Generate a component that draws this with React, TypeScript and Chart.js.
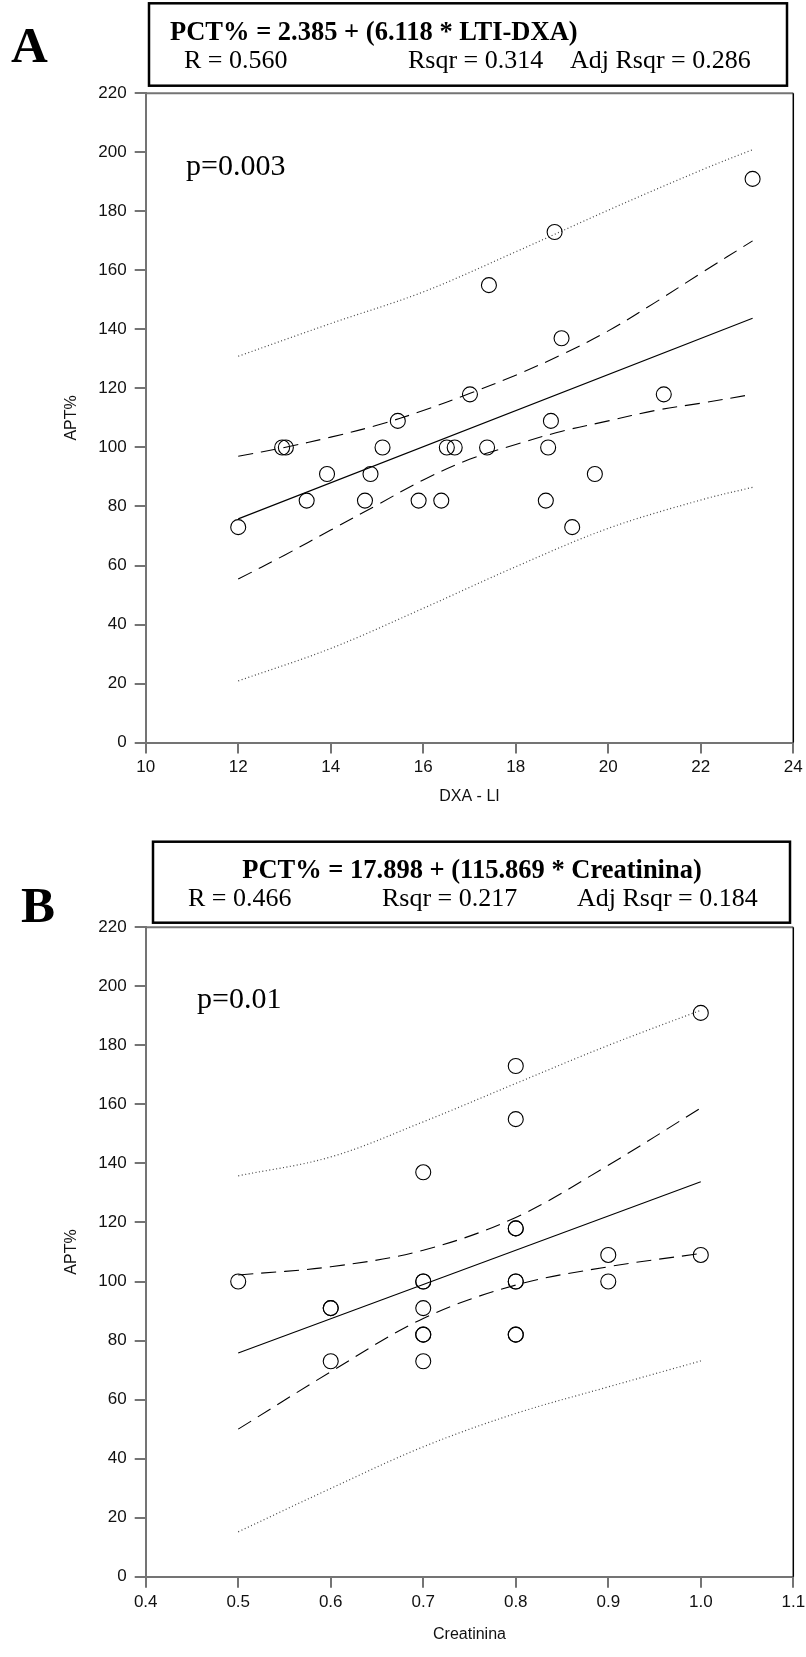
import React, { useEffect, useRef } from "react";
import { Chart, registerables } from "chart.js";

Chart.register(...registerables);

// ---------------- Panel A : APT% vs DXA - LI ----------------
const aPointsX = [12.0, 12.95, 13.03, 13.48, 13.92, 14.74, 14.86, 15.12, 15.45, 15.9, 16.39, 16.51, 16.68, 17.01, 17.38, 17.42, 18.65, 18.7, 18.76, 18.84, 18.99, 19.22, 19.71, 21.2, 23.12];
const aPointsY = [73, 100, 100, 82, 91, 82, 91, 100, 109, 82, 82, 100, 100, 118, 100, 155, 82, 100, 109, 173, 137, 73, 91, 118, 191];
const aFitX = [12.0, 23.12];
const aFitY = [75.8, 143.8];
const aConfX = [12, 13, 14, 15, 16, 17, 18, 19, 20, 21, 22, 23.12];
const aConfUpper = [97, 100, 103.5, 107.5, 112.5, 118.3, 124.5, 131.5, 139.5, 149, 159, 170];
const aConfLower = [55.4, 63.5, 72, 80.5, 89, 96, 101, 105.5, 109, 112.5, 115, 118];
const aPredX = [12, 14, 16, 18, 20, 22, 23.12];
const aPredUpper = [130.9, 142, 152.7, 166.3, 180.4, 193.9, 200.9];
const aPredLower = [20.9, 31.9, 45.5, 59.6, 72.6, 82.2, 86.5];
const aXTicks = [10, 12, 14, 16, 18, 20, 22, 24];
const aYTicks = [0, 20, 40, 60, 80, 100, 120, 140, 160, 180, 200, 220];
const aXTitle = "DXA - LI";
const aYTitle = "APT%";
const aLetter = "A";
const aEquation = "PCT% = 2.385 + (6.118 * LTI-DXA)";
const aStats = ["R = 0.560", "Rsqr = 0.314", "Adj Rsqr = 0.286"];
const aPValue = "p=0.003";

// ---------------- Panel B : APT% vs Creatinina ----------------
const bPointsX = [0.5, 0.6, 0.6, 0.6, 0.7, 0.7, 0.7, 0.7, 0.7, 0.7, 0.7, 0.8, 0.8, 0.8, 0.8, 0.8, 0.8, 0.8, 0.8, 0.9, 0.9, 1.0, 1.0];
const bPointsY = [100, 91, 91, 73, 137, 100, 100, 91, 82, 82, 73, 173, 155, 118, 118, 100, 100, 82, 82, 109, 100, 191, 109];
const bFitX = [0.5, 1.0];
const bFitY = [75.8, 133.8];
const bBandX = [0.5, 0.6, 0.7, 0.8, 0.9, 1.0];
const bConfUpper = [102.2, 105, 110.6, 121.7, 139.4, 158.8];
const bConfLower = [50, 69.4, 87.5, 98.8, 105, 109.5];
const bPredUpper = [135.8, 142.2, 154.1, 167.1, 180, 191.9];
const bPredLower = [15.2, 29.9, 44, 55.3, 64.3, 73.1];
const bXTicks = [0.4, 0.5, 0.6, 0.7, 0.8, 0.9, 1.0, 1.1];
const bYTicks = [0, 20, 40, 60, 80, 100, 120, 140, 160, 180, 200, 220];
const bXTitle = "Creatinina";
const bYTitle = "APT%";
const bLetter = "B";
const bEquation = "PCT% = 17.898 + (115.869 * Creatinina)";
const bStats = ["R = 0.466", "Rsqr = 0.217", "Adj Rsqr = 0.184"];
const bPValue = "p=0.01";

const zip = (xs: number[], ys: number[]) => xs.map((x, i) => ({ x, y: ys[i] }));

const SERIF = '"Liberation Serif", "Times New Roman", serif';
const SANS = '"Liberation Sans", Arial, sans-serif';
const AXIS_GRAY = "#747474";
const PLOT_LEFT = 145.7;
const PLOT_RIGHT = 793.3;
const PAGE_W = 806;

type Layout = {
  canvasTop: number;
  height: number;
  chartTop: number;
  chartBottom: number;
  letterX: number;
  letterY: number;
  box: [number, number, number, number];
  eqX: number;
  eqY: number;
  eqAlign: CanvasTextAlign;
  statsX: number[];
  statsY: number;
  pX: number;
  pY: number;
  titleBottomPad: number;
  xDecimals: number;
};

type Panel = {
  pointsX: number[];
  pointsY: number[];
  fitX: number[];
  fitY: number[];
  confX: number[];
  confUpper: number[];
  confLower: number[];
  predX: number[];
  predUpper: number[];
  predLower: number[];
  xTicks: number[];
  yTicks: number[];
  xTitle: string;
  yTitle: string;
  letter: string;
  equation: string;
  stats: string[];
  pValue: string;
  layout: Layout;
};

const panelA: Panel = {
  pointsX: aPointsX, pointsY: aPointsY, fitX: aFitX, fitY: aFitY,
  confX: aConfX, confUpper: aConfUpper, confLower: aConfLower,
  predX: aPredX, predUpper: aPredUpper, predLower: aPredLower,
  xTicks: aXTicks, yTicks: aYTicks, xTitle: aXTitle, yTitle: aYTitle,
  letter: aLetter, equation: aEquation, stats: aStats, pValue: aPValue,
  layout: {
    canvasTop: 0, height: 830, chartTop: 93.3, chartBottom: 742.6,
    letterX: 11, letterY: 62,
    box: [149, 3.3, 787, 85.7],
    eqX: 170, eqY: 39.5, eqAlign: "left",
    statsX: [184, 408, 570], statsY: 67.7,
    pX: 186, pY: 175,
    titleBottomPad: 23.5, xDecimals: 0,
  },
};

const panelB: Panel = {
  pointsX: bPointsX, pointsY: bPointsY, fitX: bFitX, fitY: bFitY,
  confX: bBandX, confUpper: bConfUpper, confLower: bConfLower,
  predX: bBandX, predUpper: bPredUpper, predLower: bPredLower,
  xTicks: bXTicks, yTicks: bYTicks, xTitle: bXTitle, yTitle: bYTitle,
  letter: bLetter, equation: bEquation, stats: bStats, pValue: bPValue,
  layout: {
    canvasTop: 830, height: 827, chartTop: 97.3, chartBottom: 746.7,
    letterX: 21, letterY: 92,
    box: [153, 11.7, 790, 92.7],
    eqX: 472, eqY: 47.5, eqAlign: "center",
    statsX: [188, 382, 577], statsY: 75.5,
    pX: 197, pY: 178.3,
    titleBottomPad: 12.7, xDecimals: 1,
  },
};

function makeOverlay(p: Panel) {
  const L = p.layout;
  return {
    id: "panelOverlay" + p.letter,
    afterDraw(chart: any) {
      const ctx: CanvasRenderingContext2D = chart.ctx;
      const ca = chart.chartArea;
      ctx.save();
      // top frame (gray) and right frame (black)
      ctx.strokeStyle = AXIS_GRAY;
      ctx.lineWidth = 2;
      ctx.beginPath();
      ctx.moveTo(ca.left, ca.top);
      ctx.lineTo(ca.right, ca.top);
      ctx.stroke();
      ctx.strokeStyle = "#000";
      ctx.lineWidth = 1.5;
      ctx.beginPath();
      ctx.moveTo(ca.right, ca.top);
      ctx.lineTo(ca.right, ca.bottom);
      ctx.stroke();
      // equation box
      const [bl, bt, br, bb] = L.box;
      ctx.lineWidth = 2.5;
      ctx.strokeRect(bl, bt, br - bl, bb - bt);
      ctx.fillStyle = "#000";
      ctx.textBaseline = "alphabetic";
      // panel letter
      ctx.textAlign = "left";
      ctx.font = "bold 51px " + SERIF;
      ctx.fillText(p.letter, L.letterX, L.letterY);
      // equation
      ctx.font = "bold 26.5px " + SERIF;
      ctx.textAlign = L.eqAlign;
      ctx.fillText(p.equation, L.eqX, L.eqY);
      // stats
      ctx.font = "26px " + SERIF;
      ctx.textAlign = "left";
      p.stats.forEach((s, i) => ctx.fillText(s, L.statsX[i], L.statsY));
      // p value
      ctx.font = "30px " + SERIF;
      ctx.fillText(p.pValue, L.pX, L.pY);
      ctx.restore();
    },
  };
}

function buildChart(canvas: HTMLCanvasElement, p: Panel) {
  const L = p.layout;
  const lineBase = { showLine: true, pointRadius: 0, pointHoverRadius: 0, fill: false, borderColor: "#000" };
  return new Chart(canvas, {
    type: "scatter",
    data: {
      datasets: [
        {
          label: "data",
          data: zip(p.pointsX, p.pointsY),
          pointStyle: "circle",
          pointRadius: 7.5,
          pointBorderWidth: 1.1,
          pointBorderColor: "#000",
          pointBackgroundColor: "rgba(0,0,0,0)",
          showLine: false,
        } as any,
        { ...lineBase, label: "fit", data: zip(p.fitX, p.fitY), borderWidth: 1.1 } as any,
        { ...lineBase, label: "conf+", data: zip(p.confX, p.confUpper), borderWidth: 1.1, borderDash: [15, 8], tension: 0.35 } as any,
        { ...lineBase, label: "conf-", data: zip(p.confX, p.confLower), borderWidth: 1.1, borderDash: [15, 8], tension: 0.35 } as any,
        { ...lineBase, label: "pred+", data: zip(p.predX, p.predUpper), borderWidth: 1.2, borderColor: "#444", borderDash: [1, 2.5], tension: 0.35 } as any,
        { ...lineBase, label: "pred-", data: zip(p.predX, p.predLower), borderWidth: 1.2, borderColor: "#444", borderDash: [1, 2.5], tension: 0.35 } as any,
      ],
    },
    options: {
      responsive: false,
      maintainAspectRatio: false,
      animation: false,
      devicePixelRatio: 1,
      events: [],
      layout: { padding: { top: L.chartTop, left: 0, right: PAGE_W - PLOT_RIGHT, bottom: 0 } },
      plugins: { legend: { display: false }, tooltip: { enabled: false }, title: { display: false } },
      scales: {
        x: {
          type: "linear",
          position: "bottom",
          min: p.xTicks[0],
          max: p.xTicks[p.xTicks.length - 1],
          afterBuildTicks: (s: any) => {
            s.ticks = p.xTicks.map((v) => ({ value: v }));
          },
          afterFit: (s: any) => {
            s.height = L.height - L.chartBottom;
            s.paddingLeft = 0;
            s.paddingRight = 0;
          },
          ticks: {
            autoSkip: false,
            maxRotation: 0,
            padding: 4,
            color: "#111",
            font: { family: SANS, size: 17 },
            callback: (v: any) => Number(v).toFixed(L.xDecimals),
          },
          grid: { drawOnChartArea: false, drawTicks: true, tickLength: 11, tickWidth: 2, tickColor: AXIS_GRAY, lineWidth: 2, color: AXIS_GRAY },
          border: { display: true, color: AXIS_GRAY, width: 2 },
          title: { display: true, text: p.xTitle, color: "#111", font: { family: SANS, size: 16 }, padding: { top: 0, bottom: L.titleBottomPad } },
        },
        y: {
          type: "linear",
          min: p.yTicks[0],
          max: p.yTicks[p.yTicks.length - 1],
          afterBuildTicks: (s: any) => {
            s.ticks = p.yTicks.map((v) => ({ value: v }));
          },
          afterFit: (s: any) => {
            s.width = PLOT_LEFT;
          },
          ticks: { autoSkip: false, padding: 8, color: "#111", font: { family: SANS, size: 17 } },
          grid: { drawOnChartArea: false, drawTicks: true, tickLength: 11, tickWidth: 2, tickColor: AXIS_GRAY, lineWidth: 2, color: AXIS_GRAY },
          border: { display: true, color: AXIS_GRAY, width: 2 },
          title: { display: true, text: p.yTitle, color: "#111", font: { family: SANS, size: 16 }, padding: { top: 62, bottom: 0 } },
        },
      },
    } as any,
    plugins: [makeOverlay(p)],
  });
}

function PanelCanvas({ panel }: { panel: Panel }) {
  const ref = useRef<HTMLCanvasElement | null>(null);
  useEffect(() => {
    if (!ref.current) return;
    const chart = buildChart(ref.current, panel);
    return () => chart.destroy();
  }, [panel]);
  return (
    <canvas
      ref={ref}
      width={PAGE_W}
      height={panel.layout.height}
      style={{ position: "absolute", left: 0, top: panel.layout.canvasTop, width: PAGE_W, height: panel.layout.height }}
    />
  );
}

export default function App() {
  return (
    <div style={{ position: "absolute", left: 0, top: 0, width: PAGE_W, height: 1657, background: "#fff", overflow: "hidden" }}>
      <PanelCanvas panel={panelA} />
      <PanelCanvas panel={panelB} />
    </div>
  );
}
